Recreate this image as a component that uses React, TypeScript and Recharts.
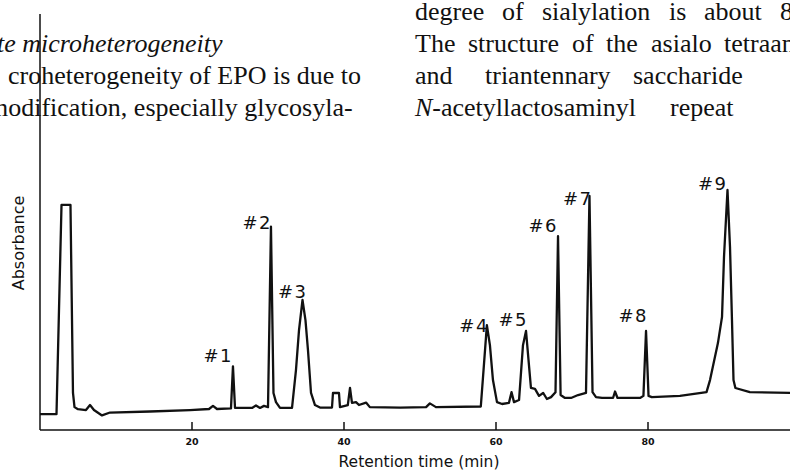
import React from "react";
import { ComposedChart, Line, Scatter, XAxis, YAxis, ReferenceLine } from "recharts";

// chromatogram trace: [retention time (min), absorbance (a.u.)]
const trace: [number, number][] = [
  [0, 3.8], [2.17, 3.8], [2.83, 54.1], [4.01, 54.1], [4.34, 8.9], [4.54, 5.5], [5.0, 5.0],
  [6.05, 4.8], [6.58, 6.0], [7.1, 4.8], [8.16, 3.5], [9.21, 4.2], [14.47, 4.45], [19.74, 4.8],
  [22.24, 5.05], [22.76, 5.8], [23.29, 5.05], [25.13, 5.2], [25.39, 15.3], [25.66, 5.3],
  [27.9, 5.3], [28.42, 5.9], [28.95, 5.3], [29.47, 5.8], [30.0, 5.5], [30.39, 48.9],
  [30.72, 8.9], [31.05, 6.7], [31.58, 5.3], [33.16, 5.3], [33.68, 14.4], [34.08, 24.0],
  [34.54, 31.25], [34.93, 26.4], [35.26, 19.2], [35.66, 8.9], [36.18, 6.0], [36.84, 5.4],
  [38.42, 5.4], [38.55, 8.9], [39.34, 8.9], [39.47, 5.5], [40.5, 6.0], [40.79, 10.1],
  [41.05, 6.5], [41.58, 6.7], [41.97, 6.0], [42.9, 6.6], [43.4, 5.5], [47.4, 5.4],
  [50.8, 5.5], [51.3, 6.4], [52.1, 5.5], [58.0, 5.65], [58.36, 14.4], [58.8, 25.2],
  [59.2, 20.4], [59.6, 12.0], [60.13, 6.7], [60.8, 6.25], [61.7, 6.5], [62.04, 9.1],
  [62.37, 6.7], [63.03, 7.2], [63.55, 20.4], [63.95, 23.8], [64.28, 16.8], [64.6, 10.1],
  [65.13, 9.9], [65.66, 8.2], [66.2, 8.9], [66.7, 7.45], [67.24, 7.9], [67.83, 9.1],
  [68.16, 46.6], [68.5, 8.4], [69.08, 7.7], [69.87, 7.7], [70.8, 8.4], [71.84, 8.9],
  [72.3, 56.25], [72.7, 9.1], [73.16, 7.9], [73.95, 7.7], [75.4, 7.7], [75.66, 9.25],
  [75.99, 7.7], [78.95, 7.7], [79.4, 8.2], [79.74, 23.8], [80.07, 8.2], [80.5, 7.9],
  [84.2, 8.2], [87.7, 9.1], [88.16, 12.0], [89.2, 20.9], [89.74, 27.2], [90.0, 41.6],
  [90.46, 57.7], [90.79, 44.0], [91.05, 26.4], [91.25, 12.0], [91.5, 10.1], [93.4, 9.1],
  [98.7, 8.9], [100, 8.9],
];

const peakLabels = ["#1", "#2", "#3", "#4", "#5", "#6", "#7", "#8", "#9"];
const peakTimes = [25.39, 30.39, 34.54, 58.8, 63.95, 68.16, 72.3, 79.74, 90.46];
const xTicks = [20, 40, 60, 80];

const lineData = trace.map(([t, abs]) => ({ t, abs }));
const peakData = peakTimes.map((t, i) => ({
  t,
  abs: trace.find((p) => p[0] === t)![1],
  label: peakLabels[i],
}));

// label nudges (px) relative to each peak apex
const labelNudge = [
  [0, -4], [1, 2], [5, -2], [2, 7], [2, -5], [0, -4], [3, 9], [2, -9], [0, 0],
];

const serif = "'Liberation Serif', 'Times New Roman', serif";
const sans = "'DejaVu Sans', sans-serif";

function XTick(props: any) {
  const { x, y, payload } = props;
  return (
    <g>
      <line x1={x} x2={x} y1={y - 8} y2={y} stroke="#111" strokeWidth={1.5} />
      <text x={x} y={y + 15} textAnchor="middle" fontFamily={sans} fontWeight="bold" fontSize={9.5} fill="#111">
        {payload.value}
      </text>
    </g>
  );
}

function PeakLabel(props: any) {
  const { cx, cy, payload, index } = props;
  const [dx, dy] = labelNudge[index] || [0, 0];
  return (
    <text x={cx + dx} y={cy + dy} textAnchor="end" fontFamily={sans} fontSize={18} letterSpacing={1.5} fill="#111">
      {payload.label}
    </text>
  );
}

// fragments of the surrounding page text visible in the scan (justified columns)
function PageText() {
  return (
    <svg width={790} height={470} style={{ position: "absolute", left: 0, top: 0, pointerEvents: "none" }}>
      <g fontFamily={serif} fontSize={26} fill="#111">
        <text x={-3} y={52} fontStyle="italic">te microheterogeneity</text>
        <text x={8} y={84}>croheterogeneity of EPO is due to</text>
        <text x={-12} y={116}>modification, especially glycosyla-</text>

        <text x={415} y={20}>degree</text>
        <text x={502} y={20}>of</text>
        <text x={542} y={20}>sialylation</text>
        <text x={669} y={20}>is</text>
        <text x={704} y={20}>about</text>
        <text x={780} y={20}>8</text>

        <text x={415} y={52}>The</text>
        <text x={468} y={52}>structure</text>
        <text x={572} y={52}>of</text>
        <text x={606} y={52}>the</text>
        <text x={651} y={52}>asialo</text>
        <text x={724} y={52}>tetraan</text>

        <text x={415} y={84}>and</text>
        <text x={485} y={84}>triantennary</text>
        <text x={633} y={84}>saccharide</text>

        <text x={415} y={116}><tspan fontStyle="italic">N</tspan>-acetyllactosaminyl</text>
        <text x={670} y={116}>repeat</text>
      </g>
    </svg>
  );
}

export default function App() {
  return (
    <div style={{ position: "absolute", left: 0, top: 0, width: 790, height: 470, overflow: "hidden", background: "#fff" }}>
      <ComposedChart width={800} height={470} margin={{ top: 14, right: 0, left: 40, bottom: 0 }}>
        <XAxis
          dataKey="t"
          type="number"
          domain={[0, 100]}
          ticks={xTicks}
          tickSize={0}
          tickMargin={0}
          tick={<XTick />}
          axisLine={{ stroke: "#111", strokeWidth: 1.5 }}
          height={40}
        />
        <YAxis type="number" domain={[0, 100]} hide />
        <ReferenceLine x={0} stroke="#111" strokeWidth={1.5} />
        <Line
          data={lineData}
          dataKey="abs"
          type="linear"
          stroke="#111"
          strokeWidth={2.3}
          strokeLinejoin="round"
          dot={false}
          isAnimationActive={false}
        />
        <Scatter data={peakData} dataKey="abs" shape={<PeakLabel />} isAnimationActive={false} />
      </ComposedChart>
      <div
        style={{
          position: "absolute",
          left: 18,
          top: 243,
          transform: "translate(-50%, -50%) rotate(-90deg)",
          fontFamily: sans,
          fontSize: 16,
          color: "#111",
          whiteSpace: "nowrap",
        }}
      >
        Absorbance
      </div>
      <div
        style={{
          position: "absolute",
          left: 419,
          top: 455,
          transform: "translateX(-50%)",
          fontFamily: sans,
          fontSize: 15.5,
          lineHeight: "15.5px",
          color: "#111",
          whiteSpace: "nowrap",
        }}
      >
        Retention time (min)
      </div>
      <PageText />
    </div>
  );
}
